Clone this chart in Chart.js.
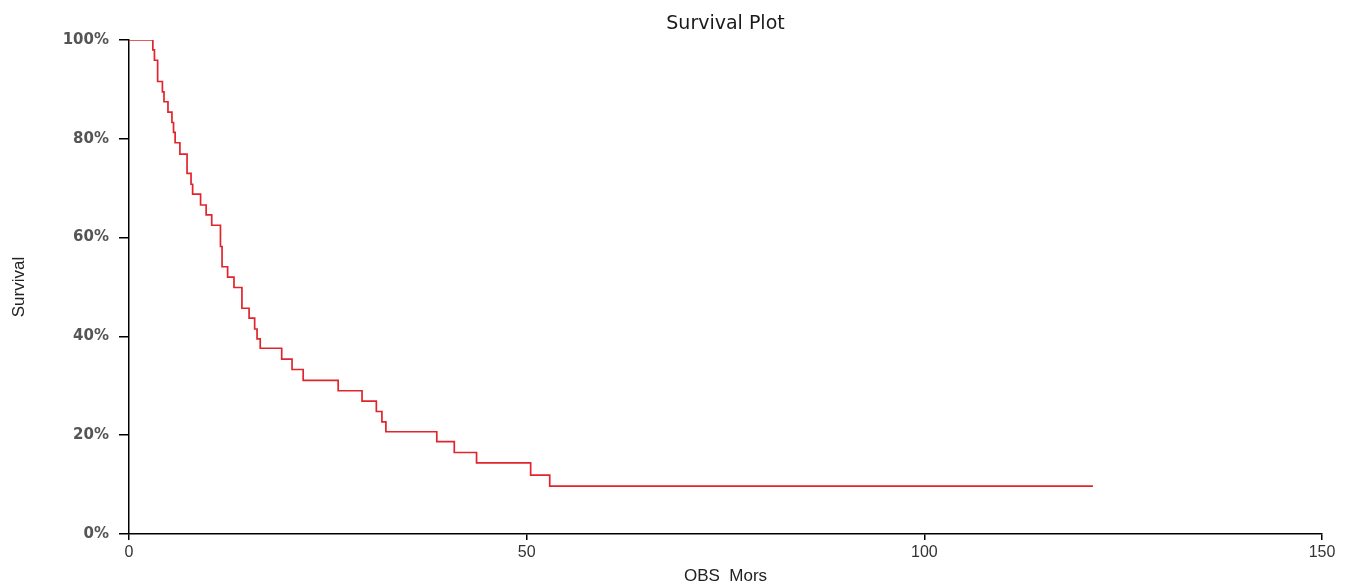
<!DOCTYPE html>
<html>
<head>
<meta charset="utf-8">
<script src="https://cdn.jsdelivr.net/npm/chart.js@4.4.1/dist/chart.umd.min.js"></script>
<style>
html,body{margin:0;padding:0;background:#ffffff;}
#wrap{width:1350px;height:583px;position:relative;}
</style>
</head>
<body>
<div id="wrap"><canvas id="c" width="1350" height="583"></canvas></div>
<script>
// Kaplan-Meier step points: time at which survival drops to the given level
const times = [0, 3.0, 3.2, 3.6, 4.2, 4.4, 4.9, 5.4, 5.6, 5.8, 6.4, 7.3, 7.8, 8.0, 9.0, 9.7, 10.4,
  11.5, 11.7, 12.4, 13.2, 14.2, 15.1, 15.8, 16.1, 16.5, 19.2, 20.5, 21.9, 26.3, 29.3, 31.1,
  31.8, 32.3, 38.7, 40.9, 43.7, 50.5, 52.9];
const survival = [100, 98.0, 95.9, 91.6, 89.5, 87.5, 85.4, 83.3, 81.3, 79.2, 76.9, 73.0, 70.8,
  68.8, 66.6, 64.6, 62.5, 58.2, 54.1, 52.0, 49.9, 45.7, 43.7, 41.5, 39.5, 37.6, 35.4, 33.3,
  31.1, 29.0, 26.9, 24.8, 22.7, 20.7, 18.7, 16.5, 14.4, 11.9, 9.7];
const lastTime = 121.2;
const xTicks = [0, 50, 100, 150];
const yTicks = [0, 20, 40, 60, 80, 100];

const points = times.map((t, i) => ({x: t, y: survival[i]}));
points.push({x: lastTime, y: survival[survival.length - 1]});

const narrow = "'Liberation Sans Narrow', 'Arial Narrow', 'Liberation Sans', Arial, sans-serif";

new Chart(document.getElementById('c'), {
  type: 'line',
  data: {
    datasets: [{
      label: 'Survival',
      data: points,
      borderColor: '#e0252c',
      borderWidth: 1.7,
      pointRadius: 0,
      stepped: true,
      fill: false,
      tension: 0
    }]
  },
  options: {
    responsive: false,
    devicePixelRatio: 1,
    animation: false,
    layout: {padding: {left: 0, right: 28, top: 0, bottom: 0}},
    plugins: {
      legend: {display: false},
      tooltip: {enabled: false},
      title: {
        display: true,
        text: 'Survival Plot',
        fullSize: false,
        color: '#1a1a1a',
        font: {family: "'DejaVu Sans', sans-serif", size: 19, weight: 'normal'},
        padding: {top: 13, bottom: 4.2}
      }
    },
    scales: {
      x: {
        type: 'linear',
        min: 0, max: 150,
        afterBuildTicks: s => { s.ticks = xTicks.map(v => ({value: v})); },
        afterFit: s => { s.height = 49; },
        border: {display: true, color: '#000', width: 1.5},
        grid: {display: true, drawOnChartArea: false, drawTicks: true, tickLength: 6, tickColor: '#000', lineWidth: 1.5},
        ticks: {color: '#333', padding: 3, maxRotation: 0, font: {family: narrow, size: 16}},
        title: {display: true, text: 'OBS_Mors', color: '#222', padding: 0,
          font: {family: narrow, size: 17, lineHeight: 0.8}}
      },
      y: {
        type: 'linear',
        min: 0, max: 100,
        afterBuildTicks: s => { s.ticks = yTicks.map(v => ({value: v})); },
        afterFit: s => { s.width = 129; },
        border: {display: true, color: '#000', width: 1.5},
        grid: {display: true, drawOnChartArea: false, drawTicks: true, tickLength: 10, tickColor: '#000', lineWidth: 1.5},
        ticks: {color: '#555', padding: 10, callback: v => v + '%',
          font: {family: "'DejaVu Sans', sans-serif", size: 15, weight: 'bold'}},
        title: {display: true, text: 'Survival', color: '#222', padding: {top: 9, bottom: 8},
          font: {family: narrow, size: 17}}
      }
    }
  }
});
</script>
</body>
</html>
